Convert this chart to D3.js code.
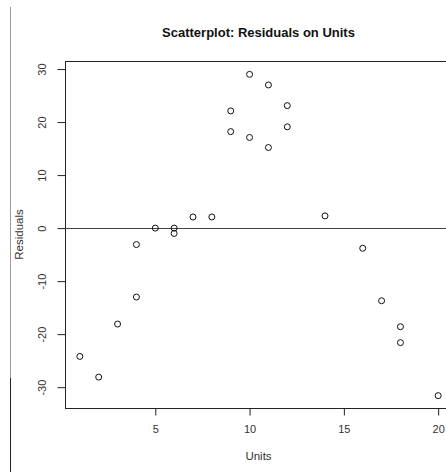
<!DOCTYPE html>
<html>
<head>
<meta charset="utf-8">
<script src="https://cdn.jsdelivr.net/npm/d3@7"></script>
<style>
  body { margin: 0; background: #fff; }
  svg { display: block; font-family: "Liberation Sans", Arial, sans-serif; }
</style>
</head>
<body>
<svg id="chart"></svg>
<script>
// data
const units = [1, 2, 3, 4, 4, 5, 6, 6, 7, 8, 9, 9, 10, 10, 11, 11, 12, 12, 14, 16, 17, 18, 18, 20];
const residuals = [-24.2, -28.1, -18.1, -13.0, -3.1, 0, 0, -1.0, 2.1, 2.1, 22.1, 18.2, 29.0, 17.1, 27.0, 15.2, 23.1, 19.1, 2.3, -3.8, -13.7, -18.6, -21.6, -31.6];
const xTicks = [5, 10, 15, 20];
const yTicks = [-30, -20, -10, 0, 10, 20, 30];

const width = 446, height = 472;
const margin = { top: 61, right: -6, bottom: 64, left: 65 };

const svg = d3.select('#chart').attr('width', width).attr('height', height);

// R-style 4% padding on the data range
const pad = (ext) => {
  const r = ext[1] - ext[0];
  return [ext[0] - 0.04 * r, ext[1] + 0.04 * r];
};

const x = d3.scaleLinear(pad(d3.extent(units)), [margin.left, width - margin.right]);
const y = d3.scaleLinear(pad(d3.extent(residuals)), [height - margin.bottom, margin.top]);
const plain = (d) => String(d); // hyphen minus, as in R

// stray border line on the left of the screenshot
svg.append('line')
  .attr('x1', 10.5).attr('x2', 10.5).attr('y1', 7).attr('y2', 378)
  .attr('stroke', '#9a9a9a');
svg.append('line')
  .attr('x1', 10.5).attr('x2', 10.5).attr('y1', 378).attr('y2', height)
  .attr('stroke', '#222');

// plot box
svg.append('rect')
  .attr('x', margin.left + 0.5)
  .attr('y', margin.top + 0.5)
  .attr('width', width - margin.right - margin.left)
  .attr('height', height - margin.bottom - margin.top)
  .attr('fill', 'none')
  .attr('stroke', '#222');

// horizontal reference at 0
svg.append('line')
  .attr('x1', margin.left).attr('x2', width)
  .attr('y1', Math.round(y(0)) + 0.5).attr('y2', Math.round(y(0)) + 0.5)
  .attr('stroke', '#444');

// x axis
svg.append('g')
  .attr('transform', `translate(0.5,${height - margin.bottom + 0.5})`)
  .call(d3.axisBottom(x).tickValues(xTicks).tickFormat(plain).tickSize(7).tickSizeOuter(0))
  .call((g) => g.select('.domain').remove())
  .call((g) => g.selectAll('.tick line').attr('stroke', '#222'))
  .call((g) => g.selectAll('.tick text')
    .attr('fill', '#333').attr('font-size', 11).attr('font-family', null)
    .attr('y', 0).attr('dy', 0).attr('transform', 'translate(0,24)'));

// y axis, labels rotated like R's default
svg.append('g')
  .attr('transform', `translate(${margin.left + 0.5},0.5)`)
  .call(d3.axisLeft(y).tickValues(yTicks).tickFormat(plain).tickSize(8).tickSizeOuter(0))
  .call((g) => g.select('.domain').remove())
  .call((g) => g.selectAll('.tick line').attr('stroke', '#222'))
  .call((g) => g.selectAll('.tick text')
    .attr('fill', '#333').attr('font-size', 11).attr('font-family', null)
    .attr('x', 0).attr('dy', 0)
    .attr('text-anchor', 'middle')
    .attr('transform', 'translate(-20,0) rotate(-90)'));

// points
svg.append('g')
  .selectAll('circle')
  .data(units.map((u, i) => [u, residuals[i]]))
  .join('circle')
  .attr('cx', (d) => x(d[0]) + 0.5)
  .attr('cy', (d) => y(d[1]) + 0.5)
  .attr('r', 3)
  .attr('fill', 'none')
  .attr('stroke', '#111')
  .attr('stroke-width', 1);

// title and axis labels
const cx = (margin.left + width - margin.right) / 2;
svg.append('text')
  .attr('x', cx).attr('y', 37)
  .attr('text-anchor', 'middle')
  .attr('font-size', 13).attr('font-weight', 'bold')
  .attr('fill', '#111')
  .text('Scatterplot: Residuals on Units');

svg.append('text')
  .attr('x', cx).attr('y', 460)
  .attr('text-anchor', 'middle')
  .attr('font-size', 11.5)
  .attr('fill', '#333')
  .text('Units');

svg.append('text')
  .attr('transform', `translate(23,${(margin.top + height - margin.bottom) / 2}) rotate(-90)`)
  .attr('text-anchor', 'middle')
  .attr('font-size', 11.5)
  .attr('fill', '#333')
  .text('Residuals');
</script>
</body>
</html>
